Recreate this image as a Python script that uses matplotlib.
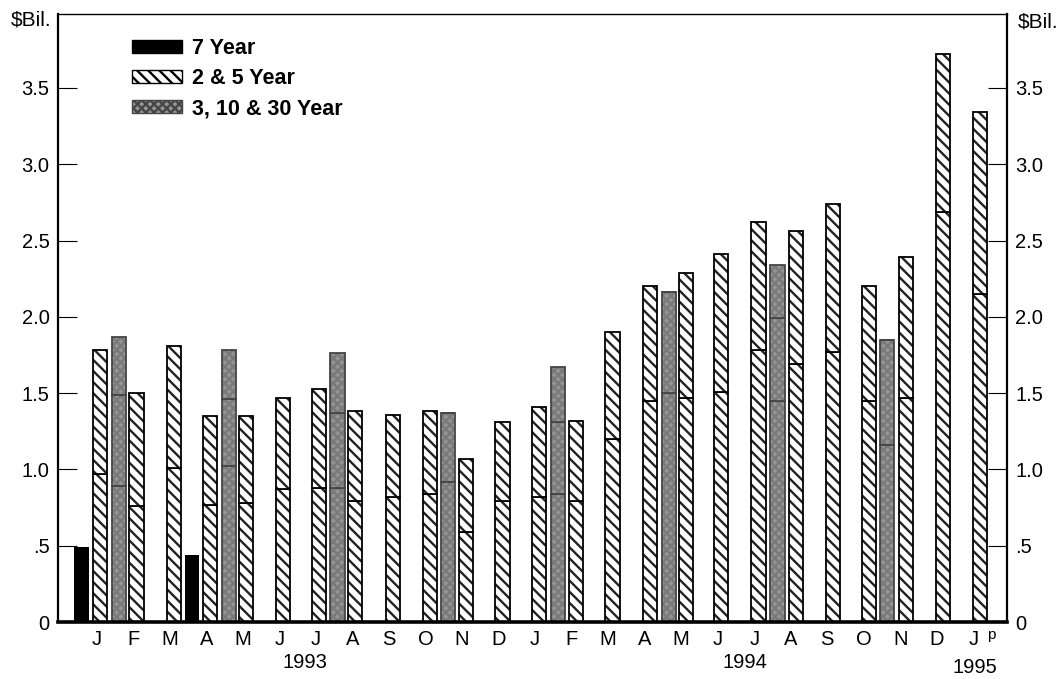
import numpy as np
import matplotlib.pyplot as plt
from matplotlib.patches import Patch

plt.rcParams['font.family'] = ['Liberation Sans', 'DejaVu Sans']
plt.rcParams['hatch.linewidth'] = 1.7

# month index: 0 = Jan 1993 ... 24 = Jan 1995
months = ['J', 'F', 'M', 'A', 'M', 'J', 'J', 'A', 'S', 'O', 'N', 'D'] * 2 + ['J']
years = ['1993', '1994', '1995']
year_pos = [5.7, 17.75, 24.04]

# 7 year auctions
t7 = [-0.42, 2.60]
v7 = [0.49, 0.44]

# 2 & 5 year auctions (lower = first part, tot = bar top)
t25 = [0.09, 1.09, 2.12, 3.10, 4.09, 5.10, 6.09, 7.08, 8.11, 9.12, 10.11, 11.11, 12.11,
       13.12, 14.12, 15.15, 16.14, 17.10, 18.12, 19.14, 20.16, 21.14, 22.15, 23.17, 24.18]
lo25 = [0.97, 0.76, 1.01, 0.77, 0.78, 0.87, 0.88, 0.79, 0.82, 0.84, 0.59, 0.79, 0.82,
        0.79, 1.20, 1.45, 1.47, 1.51, 1.78, 1.69, 1.77, 1.45, 1.47, 2.69, 2.15]
tot25 = [1.78, 1.50, 1.81, 1.35, 1.35, 1.47, 1.53, 1.38, 1.36, 1.38, 1.07, 1.31, 1.41,
         1.32, 1.90, 2.20, 2.29, 2.41, 2.62, 2.56, 2.74, 2.20, 2.39, 3.72, 3.34]

# 3, 10 & 30 year auctions (cumulative breaks)
t31 = [0.61, 3.62, 6.59, 9.62, 12.63, 15.66, 18.64, 21.63]
c1 = [0.89, 1.02, 0.88, 0.92, 0.84, 1.50, 1.45, 1.16]
c2 = [1.49, 1.46, 1.37, 1.37, 1.31, 2.16, 1.99, 1.85]
c3 = [1.87, 1.78, 1.76, 1.37, 1.67, 2.16, 2.34, 1.85]

W = 0.39
H25 = '\\\\\\'
H31 = 'xxxx'
GRAY = '#959595'
GRAYH = '#7a7a7a'
GEDGE = '#454545'

def hbar(ax, x, h, b, face, hcol, hatch, edge):
    ax.bar(x, h, bottom=b, width=W, facecolor=face, edgecolor=hcol, hatch=hatch, lw=0)
    ax.bar(x, h, bottom=b, width=W, fill=False, edgecolor=edge, lw=1.3)

fig = plt.figure(figsize=(10.64, 6.79), dpi=100)
ax = fig.add_axes([58/1064, 1-622/679, (1007-58)/1064, (622-14)/679])

ax.bar(t7, v7, width=W, color='black')

lo25 = np.array(lo25); tot25 = np.array(tot25)
hbar(ax, t25, lo25, 0, 'white', '#222222', H25, 'black')
hbar(ax, t25, tot25 - lo25, lo25, 'white', '#222222', H25, 'black')

c1 = np.array(c1); c2 = np.array(c2); c3 = np.array(c3)
hbar(ax, t31, c1, 0, GRAY, GRAYH, H31, GEDGE)
hbar(ax, t31, c2 - c1, c1, GRAY, GRAYH, H31, GEDGE)
hbar(ax, t31, c3 - c2, c2, GRAY, GRAYH, H31, GEDGE)

ax.set_xlim(-1.06, 24.92)
ax.set_ylim(0, 3.985)

ax.set_yticks([0, 0.5, 1, 1.5, 2, 2.5, 3, 3.5])
ax.set_yticklabels(['0', '.5', '1.0', '1.5', '2.0', '2.5', '3.0', '3.5'])
ax.tick_params(axis='y', direction='in', length=14, width=0.8, left=True, right=True,
               labelleft=True, labelright=True, labelsize=14.5, pad=6)
ax.set_xticks(range(25))
ax.set_xticklabels(months)
ax.tick_params(axis='x', length=0, labelsize=14.5, pad=6)

for s in ['left', 'right']:
    ax.spines[s].set_linewidth(1.6)
ax.spines['top'].set_linewidth(1.0)
ax.spines['bottom'].set_linewidth(2.6)

tr = ax.get_xaxis_transform()
for y, xp in zip(years, year_pos):
    ax.text(xp, -0.066 if y != '1995' else -0.075, y, transform=tr, ha='center', va='center',
            fontsize=14.5)
ax.text(24.48, -0.022, 'p', transform=tr, ha='center', va='center', fontsize=11)

fig.text(31/1064, 1-20/679, '$Bil.', ha='center', va='center', fontsize=15)
fig.text(1038/1064, 1-22/679, '$Bil.', ha='center', va='center', fontsize=15)

handles = [Patch(facecolor='black', edgecolor='black'),
           Patch(facecolor='white', edgecolor='black', hatch=H25),
           Patch(facecolor=GRAY, edgecolor=GEDGE, hatch=H31)]
ax.legend(handles, ['7 Year', '2 & 5 Year', '3, 10 & 30 Year'], loc='upper left',
          bbox_to_anchor=(0.062, 0.985), frameon=False,
          prop={'weight': 'bold', 'size': 15.5}, handlelength=2.33, handleheight=0.56,
          labelspacing=0.42, handletextpad=0.47, borderaxespad=0.3)

fig.savefig('out.png', dpi=100)
